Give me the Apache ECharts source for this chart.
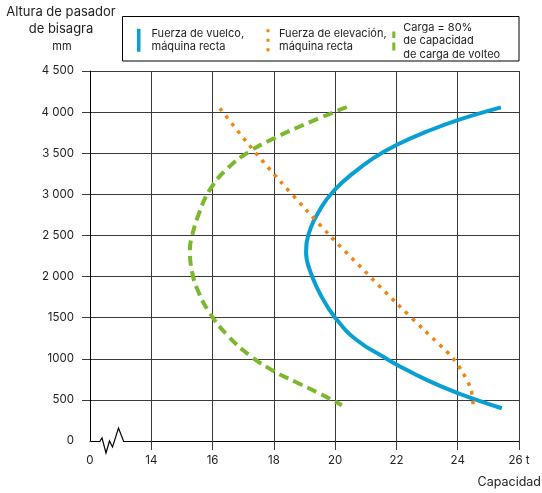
<!DOCTYPE html>
<html><head><meta charset="utf-8">
<script src="https://cdn.jsdelivr.net/npm/echarts@6/dist/echarts.min.js"></script>
<style>html,body{margin:0;padding:0;background:#fff}#c{width:542px;height:493px}</style>
</head><body><div id="c"></div>
<script>
// ---- data ----
const xTicks = [12, 14, 16, 18, 20, 22, 24, 26];
const xTickLabels = ['0', '14', '16', '18', '20', '22', '24', '26 t'];
const yTickLabels = ['0', '500', '1000', '1500', '2 000', '2 500', '3 000', '3 500', '4 000', '4 500'];
const seriesNames = ['Fuerza de vuelco,\nmáquina recta', 'Fuerza de elevación,\nmáquina recta', 'Carga = 80%\nde capacidad\nde carga de volteo'];
const vuelco = [[25.41,4058],[24.0,3903],[23.0,3765],[22.0,3600],[21.25,3440],[20.58,3255],[20.0,3060],[19.56,2849],[19.12,2500],[19.05,2300],[19.2,2050],[19.55,1760],[20.0,1500],[20.7,1228],[21.68,1000],[22.0,930],[23.0,740],[24.0,583],[25.44,398]];
const elevacion = [[16.24,4046],[17.19,3600],[18.2,3162],[19.03,2821],[19.85,2490],[20.94,2076],[22.03,1666],[22.93,1340],[23.8,1025],[24.16,835],[24.43,632],[24.51,420]];
const carga = [[20.38,4062],[19.0,3850],[18.0,3680],[17.2,3520],[16.5,3320],[15.92,3060],[15.55,2760],[15.3,2450],[15.26,2323],[15.33,2060],[15.52,1830],[15.9,1560],[16.5,1280],[17.25,1030],[18.0,850],[18.7,720],[19.4,595],[20.0,480],[20.22,435]];

const colors = ['#0a9fd2', '#f0840f', '#7cb82f'];
const FONT = 'Inter';
const gridCol = '#3a3a3a';
const legText = {fontFamily: FONT, fontSize: 11, lineHeight: 13.3, color: '#222'};

const chart = echarts.init(document.getElementById('c'), null, {renderer: 'canvas'});
const legendBase = {orient: 'horizontal', padding: 0, itemGap: 0, itemHeight: 23, selectedMode: false, itemStyle: {borderWidth: 0}};
const option = {
  animation: false,
  backgroundColor: '#fff',
  textStyle: {fontFamily: FONT},
  grid: {left: 90, right: 23, top: 71, bottom: 52, containLabel: false, outerBoundsMode: 'none'},
  legend: [
    Object.assign({}, legendBase, {left: 137, top: 27, itemWidth: 3.5,
      textStyle: Object.assign({padding: [0, 0, 0, 6]}, legText),
      data: [{name: seriesNames[0], icon: 'rect'}]}),
    Object.assign({}, legendBase, {left: 266.5, top: 27, itemWidth: 3,
      textStyle: Object.assign({padding: [0, 0, 0, 4.5]}, legText),
      data: [{name: seriesNames[1], icon: 'path://M0,0h3v3h-3z M0,9.5h3v3h-3z M0,19h3v3h-3z'}]}),
    Object.assign({}, legendBase, {left: 392.3, top: 21, itemWidth: 3,
      textStyle: Object.assign({padding: [0, 0, 0, 3]}, legText),
      data: [{name: seriesNames[2], icon: 'path://M0,0h3v6.5h-3z M0,11h3v8h-3z'}]})
  ],
  xAxis: {
    type: 'value', min: xTicks[0], max: xTicks[xTicks.length - 1], interval: 2,
    axisLine: {show: true, lineStyle: {color: '#000', width: 1}},
    axisTick: {show: true, length: 9, lineStyle: {color: gridCol}},
    axisLabel: {margin: 14, fontSize: 11.5, color: '#222', fontFamily: FONT,
      formatter: v => xTickLabels[xTicks.indexOf(v)] ?? ''},
    splitLine: {show: true, lineStyle: {color: gridCol, width: 1}}
  },
  yAxis: {
    type: 'value', min: 0, max: 4500, interval: 500,
    axisLine: {show: true, lineStyle: {color: '#000', width: 1}},
    axisTick: {show: true, length: 8, lineStyle: {color: gridCol}},
    axisLabel: {margin: 16, fontSize: 11.5, color: '#222', fontFamily: FONT,
      formatter: v => yTickLabels[Math.round(v / 500)] ?? ''},
    splitLine: {show: true, lineStyle: {color: gridCol, width: 1}}
  },
  series: [
    {name: seriesNames[0], type: 'line', data: vuelco, smooth: 0.45, symbol: 'none', z: 3,
      itemStyle: {color: colors[0]}, lineStyle: {color: colors[0], width: 4}},
    {name: seriesNames[1], type: 'line', data: elevacion, smooth: 0.3, symbol: 'none', z: 4,
      itemStyle: {color: colors[1]}, lineStyle: {color: colors[1], width: 3.5, type: [3.5, 6]}},
    {name: seriesNames[2], type: 'line', data: carga, smooth: 0.45, symbol: 'none', z: 3,
      itemStyle: {color: colors[2]}, lineStyle: {color: colors[2], width: 4, type: [10, 5.5]}}
  ]
};
chart.setOption(option);

// decorations: titles, legend frame, axis-break zigzag
const o = chart.convertToPixel({gridIndex: 0}, [xTicks[0], 0]);
const ox = o[0], oy = o[1];
const zig = [[10,0],[12,-3],[16,12],[19.5,0],[22.5,6],[28.5,-13],[33.5,0]].map(p => [ox + p[0], oy + p[1]]);
chart.setOption({
  graphic: [
    {type: 'text', z: 100, style: {x: 61, y: 12.5, text: 'Altura de pasador', font: '13px ' + FONT, fill: '#222', align: 'center', verticalAlign: 'middle'}},
    {type: 'text', z: 100, style: {x: 61, y: 29.5, text: 'de bisagra', font: '13px ' + FONT, fill: '#222', align: 'center', verticalAlign: 'middle'}},
    {type: 'text', z: 100, style: {x: 62, y: 47, text: 'mm', font: '11px ' + FONT, fill: '#222', align: 'center', verticalAlign: 'middle'}},
    {type: 'text', z: 100, style: {x: 541, y: 482, text: 'Capacidad', font: '12.5px ' + FONT, fill: '#222', align: 'right', verticalAlign: 'middle'}},
    {type: 'rect', z: 100, silent: true, shape: {x: 122.5, y: 16.5, width: 396.5, height: 44.5}, style: {fill: null, stroke: '#000', lineWidth: 1}},
    {type: 'rect', z: 100, silent: true, shape: {x: ox + 10.5, y: oy - 1.5, width: 22.5, height: 3}, style: {fill: '#fff'}},
    {type: 'rect', z: 100, silent: true, shape: {x: ox - 1.5, y: oy + 1, width: 3, height: 10}, style: {fill: '#fff'}},
    {type: 'rect', z: 100, silent: true, shape: {x: ox - 10, y: oy - 1.5, width: 9.5, height: 3}, style: {fill: '#fff'}},
    {type: 'polyline', z: 101, silent: true, shape: {points: zig}, style: {stroke: '#000', lineWidth: 1.2, fill: null}}
  ]
});
</script>
</body></html>
